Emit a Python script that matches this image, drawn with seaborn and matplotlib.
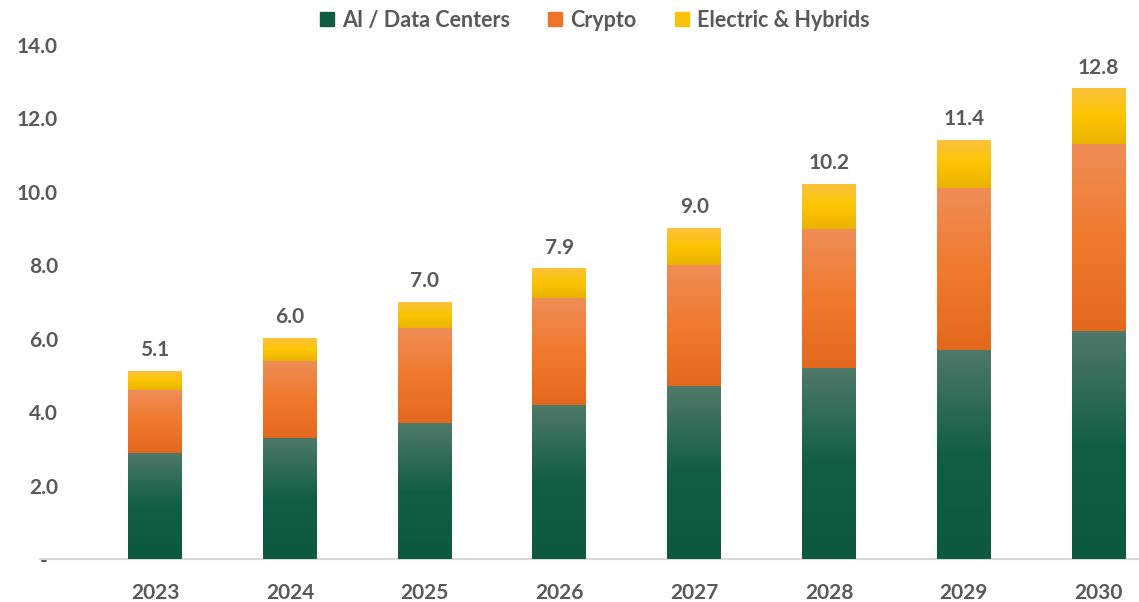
import numpy as np
import matplotlib
matplotlib.use("Agg")
import matplotlib.pyplot as plt
from matplotlib.colors import LinearSegmentedColormap
from matplotlib.lines import Line2D
import seaborn as sns

# Electricity demand growth by driver
years = ["2023", "2024", "2025", "2026", "2027", "2028", "2029", "2030"]
ai_data_centers = [2.9, 3.3, 3.7, 4.2, 4.7, 5.2, 5.7, 6.2]
crypto = [1.7, 2.1, 2.6, 2.9, 3.3, 3.8, 4.4, 5.1]
electric_hybrids = [0.5, 0.6, 0.7, 0.8, 1.0, 1.2, 1.3, 1.5]
series_names = ["AI / Data Centers", "Crypto", "Electric & Hybrids"]
y_ticks = [0, 2, 4, 6, 8, 10, 12, 14]

TEXT = "#595959"
FONT = "Lato"
SIZE = 15

sns.set_theme(style="white")
plt.rcParams["font.family"] = [FONT, "DejaVu Sans"]
plt.rcParams["font.weight"] = "bold"

# flat legend colours and gradient stops (bottom -> top) per segment
solid = ["#0f5c40", "#ee7527", "#fbc20b"]
stops = [
    ["#0d5a3e", "#125e45", "#4e7a68"],
    ["#e3681d", "#f07a2c", "#ef8d58"],
    ["#e9b300", "#fcc500", "#fbc23e"],
]

fig = plt.figure(figsize=(11.39, 6.02), dpi=100)
ax = fig.add_axes([40 / 1139, 43 / 602, 1 - 40 / 1139, 514 / 602])

segments = [np.array(ai_data_centers), np.array(crypto), np.array(electric_hybrids)]
cums = np.cumsum(segments, axis=0)

# stacked bars: draw cumulative heights, tallest first
layers = []
for i in range(2, -1, -1):
    before = len(ax.patches)
    sns.barplot(x=years, y=cums[i], color=solid[i], width=0.4, errorbar=None,
                linewidth=0, ax=ax, zorder=2)
    layers.insert(0, ax.patches[before:])

# vertical gradient over the visible part of each segment
grad = np.linspace(0, 1, 256)[:, None]
for i in range(3):
    cmap = LinearSegmentedColormap.from_list(f"seg{i}", stops[i])
    for j, p in enumerate(layers[i]):
        lower = 0 if i == 0 else layers[i - 1][j].get_height()
        top = p.get_height()
        x0 = p.get_x()
        ax.imshow(grad, cmap=cmap, origin="lower", aspect="auto",
                  extent=(x0, x0 + p.get_width(), lower, top), zorder=3,
                  interpolation="bilinear")

# totals above the bars
totals = cums[2]
for j, p in enumerate(layers[2]):
    ax.annotate(f"{totals[j]:.1f}", (p.get_x() + p.get_width() / 2, p.get_height()),
                xytext=(0, 11), textcoords="offset points", ha="center",
                va="baseline", fontsize=SIZE, fontweight="bold", color=TEXT)

ax.set_xlim(-0.854, 7.3)
ax.set_ylim(0, 14)
ax.set_yticks(y_ticks)
ax.set_yticklabels(["-  "] + [f"{v:.1f}" for v in y_ticks[1:]])
ax.set_xlabel("")
ax.set_ylabel("")
ax.tick_params(axis="y", length=0, pad=-13, labelsize=SIZE, labelcolor=TEXT)
ax.tick_params(axis="x", length=0, pad=17, labelsize=SIZE, labelcolor=TEXT)
for lab in ax.get_xticklabels() + ax.get_yticklabels():
    lab.set_fontweight("bold")

for s in ["top", "right", "left"]:
    ax.spines[s].set_visible(False)
ax.spines["bottom"].set_color("#d9d9d9")
ax.spines["bottom"].set_linewidth(1.5)
ax.grid(False)

handles = [Line2D([], [], marker="s", linestyle="none", markersize=10,
                  markerfacecolor=c, markeredgecolor=c) for c in solid]
fig.legend(handles, series_names, loc="center", bbox_to_anchor=(0.5215, 0.966),
           ncol=3, frameon=False, handlelength=0.8, handletextpad=0.3,
           columnspacing=1.7, prop={"family": [FONT, "DejaVu Sans"],
                                    "weight": "bold", "size": 15.5},
           labelcolor=TEXT)

fig.savefig("out.png", dpi=100)
